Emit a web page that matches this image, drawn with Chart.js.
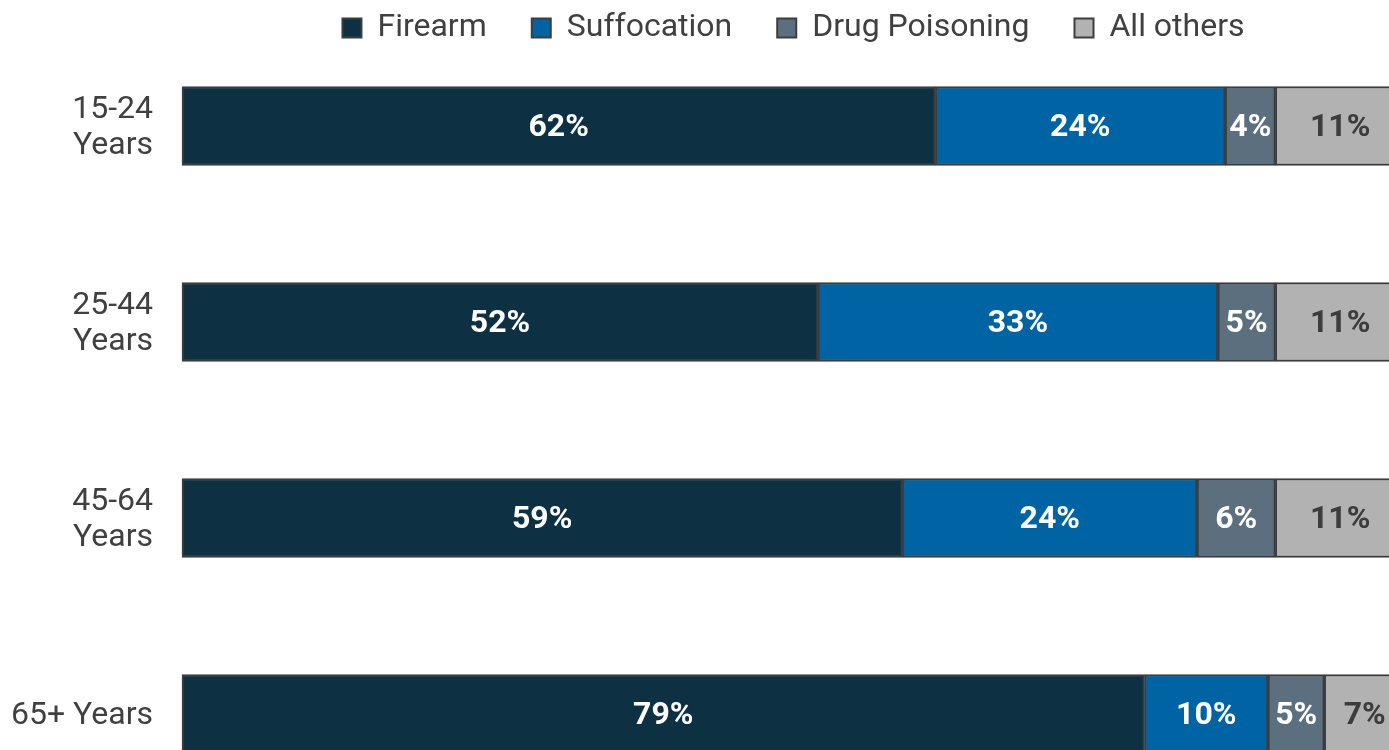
<!DOCTYPE html>
<html>
<head>
<meta charset="utf-8">
<script src="https://cdn.jsdelivr.net/npm/chart.js@4"></script>
<style>
    html, body { margin: 0; padding: 0; background: #ffffff; overflow: hidden; }
</style>
</head>
<body>
<canvas id="chart" width="1405" height="750"></canvas>
<script>
const age_groups = [['15-24', 'Years'], ['25-44', 'Years'], ['45-64', 'Years'], '65+ Years'];
const methods = ['Firearm', 'Suffocation', 'Drug Poisoning', 'All others'];
const firearm = [61.6, 52.0, 58.9, 78.7];
const suffocation = [23.7, 32.7, 24.1, 10.1];
const drug_poisoning = [4.1, 4.7, 6.4, 4.6];
const all_others = [10.6, 10.6, 10.6, 6.6];
const method_colors = ['#0d3043', '#0064a4', '#5b6f7f', '#b2b2b2'];
const label_colors = ['#ffffff', '#ffffff', '#ffffff', '#3c3c3c'];

Chart.defaults.font.family = 'Roboto';
Chart.defaults.color = '#404040';

// percent labels in the middle of each segment
const bar_labels = {
    id: 'bar_labels',
    afterDatasetsDraw(chart) {
        const ctx = chart.ctx;
        ctx.save();
        ctx.font = 'bold 32px Roboto';
        ctx.textAlign = 'center';
        ctx.textBaseline = 'middle';
        chart.data.datasets.forEach((dataset, i) => {
            chart.getDatasetMeta(i).data.forEach((bar, j) => {
                ctx.fillStyle = label_colors[i];
                ctx.fillText(Math.round(dataset.data[j]) + '%', (bar.x + bar.base) / 2, bar.y + 2);
            });
        });
        ctx.restore();
    }
};

const series = [firearm, suffocation, drug_poisoning, all_others];

new Chart(document.getElementById('chart'), {
    type: 'bar',
    data: {
        labels: age_groups,
        datasets: series.map((values, i) => ({
            label: methods[i],
            data: values,
            backgroundColor: method_colors[i],
            borderColor: '#3d3d3d',
            borderWidth: 2,
            borderSkipped: false,
            barThickness: 79,
            clip: false
        }))
    },
    options: {
        indexAxis: 'y',
        responsive: false,
        animation: false,
        layout: {
            padding: { top: -33, bottom: 36, left: 0, right: 0 }
        },
        scales: {
            x: {
                stacked: true,
                position: 'top',
                min: 0,
                max: 100,
                ticks: { display: false },
                grid: { display: false, drawTicks: false },
                border: { display: false },
                afterFit: (scale) => { scale.height = 72; }
            },
            y: {
                stacked: true,
                offset: false,
                grid: { display: false, drawTicks: false },
                border: { display: false },
                ticks: {
                    padding: 29,
                    labelOffset: 2,
                    color: '#404040',
                    font: { size: 32, lineHeight: 1.125 }
                },
                afterFit: (scale) => {
                    scale.width = 182;
                    scale.paddingTop = 0;
                    scale.paddingBottom = 0;
                }
            }
        },
        plugins: {
            legend: {
                position: 'top',
                fullSize: false,
                labels: {
                    boxWidth: 19,
                    boxHeight: 19,
                    padding: 45,
                    color: '#404040',
                    font: { size: 32 }
                }
            },
            tooltip: { enabled: false }
        }
    },
    plugins: [bar_labels]
});
</script>
</body>
</html>
